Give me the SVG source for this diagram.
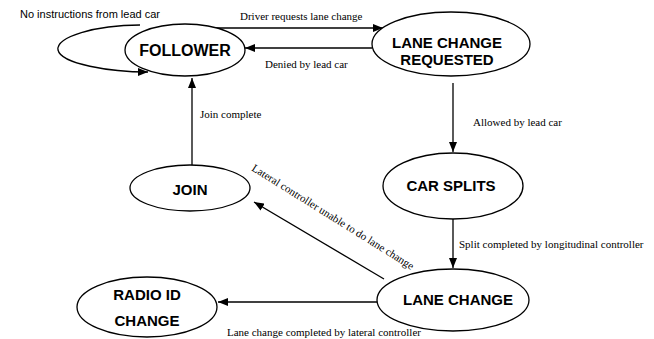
<svg xmlns="http://www.w3.org/2000/svg" width="654" height="339" viewBox="0 0 654 339">
<style>
.node{fill:#fff;stroke:#000;stroke-width:1.3}
.nt{font-family:"Liberation Sans",Arial,sans-serif;font-weight:bold;font-size:15px;text-anchor:middle;fill:#000}
.lbl{font-family:"Liberation Serif","Times New Roman",serif;font-size:11px;fill:#000}
.lbs{font-family:"Liberation Sans",Arial,sans-serif;font-size:11px;fill:#000}
.edge{fill:none;stroke:#000;stroke-width:1.3;marker-end:url(#arr)}
</style>
<defs>
<marker id="arr" viewBox="0 0 10 8" refX="10" refY="4" markerWidth="10" markerHeight="8" markerUnits="userSpaceOnUse" orient="auto">
<path d="M0,0 L10,4 L0,8 Z" fill="#000"/>
</marker>
</defs>
<rect width="654" height="339" fill="#fff"/>
<g id="connectors">
<path class="edge" d="M140,25 C95,25 56,37 58,50 C61,64 110,72 148,72"/>
<path class="edge" d="M203,28 L383,28"/>
<path class="edge" d="M372,48 L245,48"/>
<path class="edge" d="M453,83 L453,152"/>
<path class="edge" d="M453,219 L453,268"/>
<path class="edge" d="M192,165 L192,78"/>
<path class="edge" d="M384,279 L254,202"/>
<path class="edge" d="M377,302 L218,302"/>
<text class="lbs" x="20" y="18">No instructions from lead car</text>
<text class="lbl" x="240" y="20">Driver requests lane change</text>
<text class="lbl" x="265" y="68">Denied by lead car</text>
<text class="lbl" x="473" y="126">Allowed by lead car</text>
<text class="lbl" x="200" y="118">Join complete</text>
<text class="lbl" x="459" y="248">Split completed by longitudinal controller</text>
<text class="lbl" x="227" y="336">Lane change completed by lateral controller</text>
<text class="lbl" transform="translate(251,170) rotate(32)">Lateral controller unable to do lane change</text>
</g>
<g id="follower">
<ellipse class="node" cx="185" cy="50" rx="60" ry="26"/>
<text class="nt" x="185" y="56" style="font-size:16px">FOLLOWER</text>
</g>
<g id="lane-change-requested">
<ellipse class="node" cx="451" cy="44" rx="79" ry="32"/>
<text class="nt" x="447" y="48">LANE CHANGE</text>
<text class="nt" x="447" y="65">REQUESTED</text>
</g>
<g id="car-splits">
<ellipse class="node" cx="453" cy="186" rx="70" ry="33"/>
<text class="nt" x="451" y="191">CAR SPLITS</text>
</g>
<g id="join">
<ellipse class="node" cx="190" cy="188" rx="60" ry="23"/>
<text class="nt" x="190" y="195">JOIN</text>
</g>
<g id="lane-change">
<ellipse class="node" cx="453" cy="300" rx="76" ry="31"/>
<text class="nt" x="458" y="305">LANE CHANGE</text>
</g>
<g id="radio-id-change">
<ellipse class="node" cx="147" cy="307" rx="70" ry="30"/>
<text class="nt" x="147" y="300">RADIO ID</text>
<text class="nt" x="147" y="326">CHANGE</text>
</g>
</svg>
